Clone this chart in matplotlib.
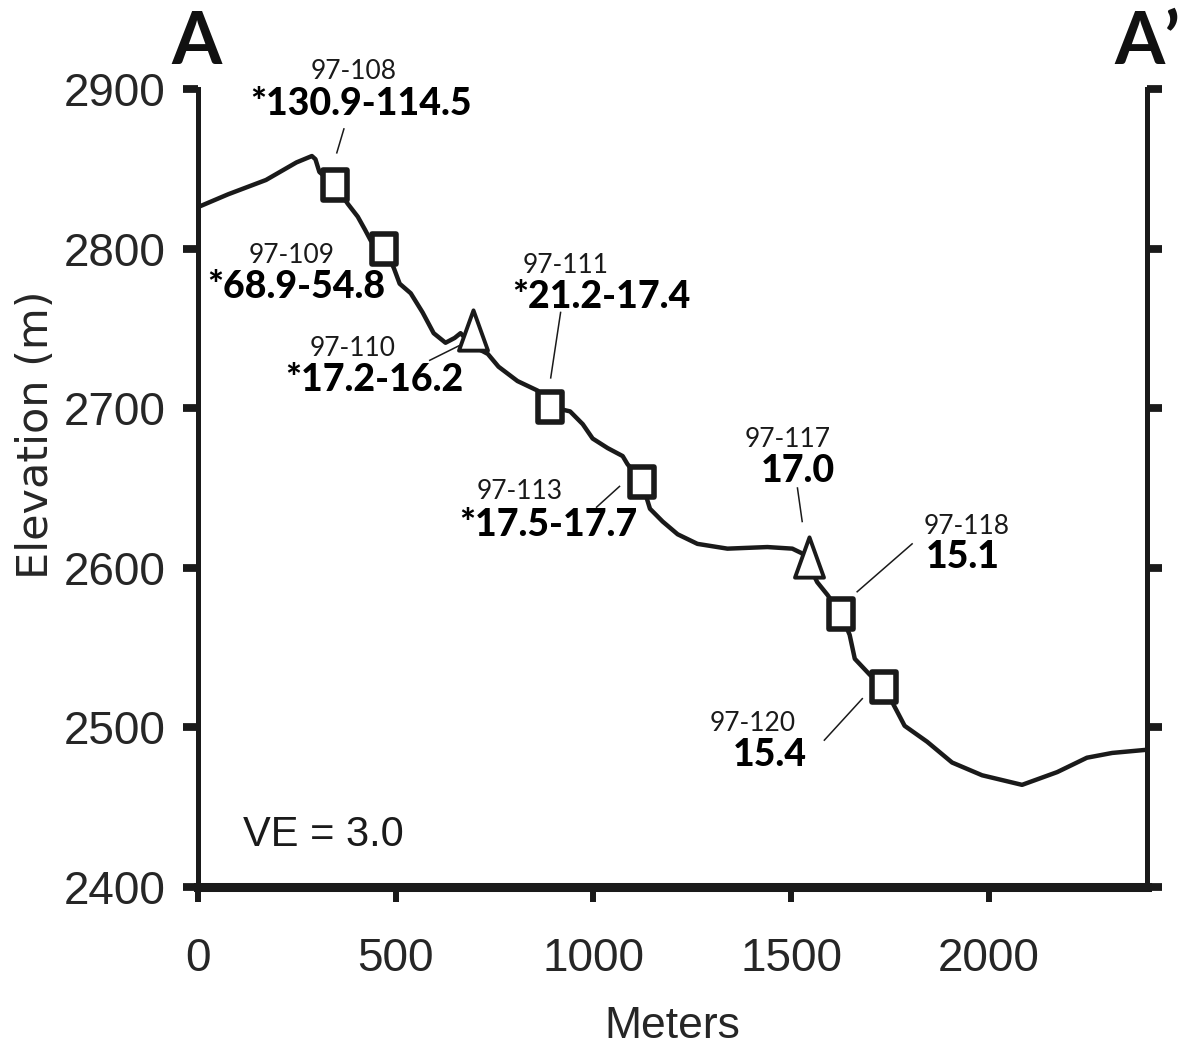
import matplotlib
matplotlib.use("Agg")
import matplotlib.pyplot as plt
from matplotlib.path import Path
from matplotlib.markers import MarkerStyle

# ---------------- data ----------------
profile_x = [0, 76, 172, 249, 288, 297, 307, 346, 379, 404, 422, 437, 471, 495, 510,
             538, 568, 596, 626, 649, 664, 695, 733, 760, 808, 859, 889, 941, 973,
             998, 1036, 1074, 1086, 1122, 1143, 1175, 1213, 1263, 1339, 1440, 1503,
             1528, 1546, 1566, 1592, 1626, 1648, 1661, 1699, 1736, 1768, 1787, 1844,
             1907, 1983, 2084, 2173, 2248, 2312, 2400]
profile_y = [2826, 2834, 2843, 2854, 2858, 2856, 2848, 2840, 2828, 2820, 2812, 2805,
             2800, 2788, 2778, 2772, 2760, 2747, 2741, 2744, 2747, 2739, 2734, 2726,
             2717, 2711, 2701, 2698, 2690, 2681, 2675, 2670, 2665, 2654, 2637, 2629,
             2621, 2615, 2612, 2613, 2612, 2609, 2601, 2591, 2583, 2571, 2558, 2543,
             2533, 2525, 2510, 2501, 2491, 2478, 2470, 2464, 2472, 2481, 2484, 2486]

square_ids = ["97-108", "97-109", "97-111", "97-113", "97-118", "97-120"]
square_x = [346, 471, 889, 1122, 1626, 1736]
square_y = [2840, 2800, 2701, 2654, 2571, 2525]

triangle_ids = ["97-110", "97-117"]
triangle_x = [696, 1546]
triangle_y = [2749, 2607]

sample_ids = ["97-108", "97-109", "97-110", "97-111", "97-113", "97-117", "97-118", "97-120"]
sample_values = ["*130.9-114.5", "*68.9-54.8", "*17.2-16.2", "*21.2-17.4",
                 "*17.5-17.7", "17.0", "15.1", "15.4"]
# label anchor positions (data coords): id label and value label
id_pos = [(394, 2906), (238, 2791), (392, 2733), (930, 2785),
          (814, 2643), (1490, 2676), (1943, 2621), (1402, 2498)]
val_pos = [(412, 2884), (248, 2769), (447, 2711), (1021, 2763),
           (887, 2620), (1516, 2654), (1933, 2600), (1445, 2476)]
leaders = [((351, 2860), (369, 2875)), None, ((586, 2730), (659, 2739)),
           ((917, 2760), (892, 2719)), ((1008, 2638), (1066, 2651)),
           ((1516, 2650), (1528, 2629)), ((1806, 2615), (1667, 2585)),
           ((1584, 2492), (1680, 2518))]

x_ticks = [0, 500, 1000, 1500, 2000]
y_ticks = [2400, 2500, 2600, 2700, 2800, 2900]

# ---------------- figure ----------------
W, H = 1181, 1054
fig = plt.figure(figsize=(W / 100, H / 100), dpi=100)
ax = fig.add_axes([198 / W, 1 - 887 / H, 949 / W, 798 / H])

axis_font = ["Liberation Sans", "DejaVu Sans"]
label_font = ["Lato", "DejaVu Sans"]

ax.plot(profile_x, profile_y, color="#1a1a1a", lw=3.2, solid_joinstyle="round",
        solid_capstyle="butt", zorder=2, clip_on=False)

sq_path = Path([(-0.77, -1), (0.77, -1), (0.77, 1), (-0.77, 1), (-0.77, -1)],
               [Path.MOVETO, Path.LINETO, Path.LINETO, Path.LINETO, Path.CLOSEPOLY])
tri_path = Path([(0, 1), (-0.72, -1), (0.72, -1), (0, 1)],
                [Path.MOVETO, Path.LINETO, Path.LINETO, Path.CLOSEPOLY])
ax.plot(square_x, square_y, linestyle="none",
        marker=MarkerStyle(sq_path, joinstyle="miter"), markersize=22,
        markerfacecolor="white", markeredgecolor="#1a1a1a", markeredgewidth=4.0, zorder=4)
ax.plot(triangle_x, triangle_y, linestyle="none",
        marker=MarkerStyle(tri_path, joinstyle="miter"), markersize=29,
        markerfacecolor="white", markeredgecolor="#1a1a1a", markeredgewidth=2.8, zorder=4)

for sid, val, ip, vp, ld in zip(sample_ids, sample_values, id_pos, val_pos, leaders):
    ax.text(ip[0], ip[1], sid, ha="center", va="baseline", fontsize=19,
            family=label_font, color="#1a1a1a", clip_on=False, zorder=5)
    ax.text(vp[0], vp[1], val, ha="center", va="baseline", fontsize=27,
            family=label_font, fontweight="black", color="black", clip_on=False, zorder=5)
    if ld is not None:
        ax.plot([ld[0][0], ld[1][0]], [ld[0][1], ld[1][1]], color="#1a1a1a",
                lw=1.1, zorder=3, clip_on=False)

ax.text(114, 2426, "VE = 3.0", ha="left", va="baseline", fontsize=30,
        family=axis_font, color="#1a1a1a")

ax.text(-0.002, 1.031, "A", transform=ax.transAxes, ha="center", va="baseline",
        fontsize=52, family=label_font, fontweight="bold", color="#111111", clip_on=False)
ax.text(1.0, 1.031, "A\u2019", transform=ax.transAxes, ha="center", va="baseline",
        fontsize=52, family=label_font, fontweight="bold", color="#111111", clip_on=False)

ax.set_xlim(0, 2400)
ax.set_ylim(2400, 2900)
ax.set_xticks(x_ticks)
ax.set_yticks(y_ticks)
ax.set_xticklabels([str(v) for v in x_ticks])
ax.set_yticklabels([str(v) for v in y_ticks])

for side in ["left", "right"]:
    ax.spines[side].set_linewidth(3.6)
    ax.spines[side].set_color("#1a1a1a")
ax.spines["bottom"].set_linewidth(6.5)
ax.spines["bottom"].set_color("#1a1a1a")
ax.spines["top"].set_visible(False)

ax.tick_params(axis="y", which="major", left=True, right=True, direction="out",
               length=10.5, width=5.6, color="#1a1a1a", pad=13,
               labelsize=33, labelcolor="#262626")
ax.tick_params(axis="x", which="major", bottom=True, direction="out",
               length=11, width=4.3, color="#1a1a1a", pad=25,
               labelsize=33, labelcolor="#262626")
for lab in ax.get_xticklabels() + ax.get_yticklabels():
    lab.set_family(axis_font)

ax.set_xlabel("Meters", fontsize=32, family=axis_font, color="#262626")
ax.xaxis.set_label_coords(0.5, -0.1748)
ax.xaxis.label.set_va("center")
ax.set_ylabel("Elevation (m)", fontsize=31, family=["DejaVu Sans"], color="#262626")
ax.yaxis.set_label_coords(-0.1707, 0.5664)
ax.yaxis.label.set_va("center")

fig.savefig("out.png", dpi=100, facecolor="white")
